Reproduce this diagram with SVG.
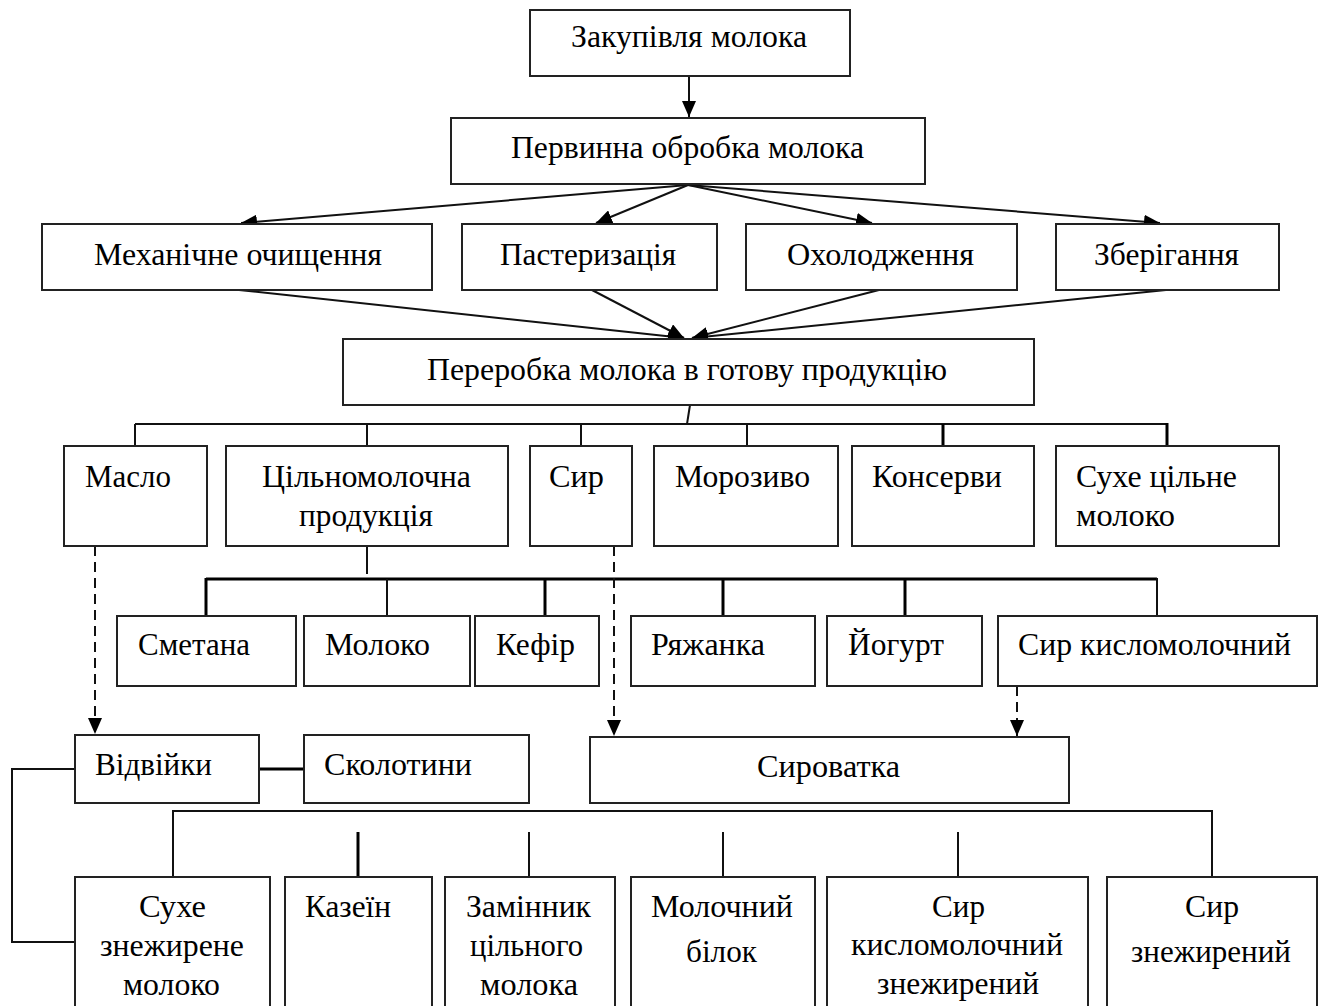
<svg xmlns="http://www.w3.org/2000/svg" width="1324" height="1006" viewBox="0 0 1324 1006">
<style>
.b{fill:#fff;stroke:#222;stroke-width:2}
.t{font-family:"Liberation Serif","Times New Roman",serif;font-size:32px;fill:#000}
.c{fill:none;stroke:#111;stroke-width:2}
.k{fill:none;stroke:#000;stroke-width:3}
.d{fill:none;stroke:#111;stroke-width:2;stroke-dasharray:10,6}
</style>
<defs>
<marker id="ar" markerUnits="userSpaceOnUse" markerWidth="18" markerHeight="14" refX="16" refY="7" orient="auto">
<path d="M0,0 L16,7 L0,14 z" fill="#000"/>
</marker>
</defs>
<rect width="1324" height="1006" fill="#fff"/>
<g id="connectors">
<line class="c" x1="689" y1="76" x2="689" y2="117" marker-end="url(#ar)"/>
<line class="c" x1="688" y1="185" x2="241" y2="223" marker-end="url(#ar)"/>
<line class="c" x1="688" y1="185" x2="596" y2="223" marker-end="url(#ar)"/>
<line class="c" x1="688" y1="185" x2="872" y2="223" marker-end="url(#ar)"/>
<line class="c" x1="688" y1="185" x2="1160" y2="223" marker-end="url(#ar)"/>
<line class="c" x1="239" y1="290" x2="684" y2="338" marker-end="url(#ar)"/>
<line class="c" x1="592" y1="290" x2="684" y2="338" marker-end="url(#ar)"/>
<line class="c" x1="879" y1="290" x2="692" y2="338" marker-end="url(#ar)"/>
<line class="c" x1="1166" y1="290" x2="692" y2="338" marker-end="url(#ar)"/>
<line class="c" x1="690" y1="405" x2="687" y2="424"/>
<line class="c" x1="135" y1="424" x2="1167" y2="424"/>
<line class="c" x1="135" y1="424" x2="135" y2="446"/>
<line class="c" x1="367" y1="424" x2="367" y2="446"/>
<line class="c" x1="581" y1="424" x2="581" y2="446"/>
<line class="c" x1="747" y1="424" x2="747" y2="446"/>
<line class="k" x1="943" y1="424" x2="943" y2="446"/>
<line class="k" x1="1167" y1="423" x2="1167" y2="446"/>
<line class="c" x1="367" y1="546" x2="367" y2="574"/>
<line class="k" x1="206" y1="579" x2="1157" y2="579"/>
<line class="k" x1="206" y1="578" x2="206" y2="616"/>
<line class="c" x1="387" y1="579" x2="387" y2="616"/>
<line class="k" x1="545" y1="579" x2="545" y2="616"/>
<line class="k" x1="723" y1="579" x2="723" y2="616"/>
<line class="k" x1="905" y1="579" x2="905" y2="616"/>
<line class="c" x1="1157" y1="578" x2="1157" y2="616"/>
<line class="d" x1="95" y1="546" x2="95" y2="734" marker-end="url(#ar)"/>
<line class="d" x1="614" y1="546" x2="614" y2="736" marker-end="url(#ar)"/>
<line class="d" x1="1017" y1="686" x2="1017" y2="736" marker-end="url(#ar)"/>
<line class="k" x1="259" y1="769" x2="304" y2="769"/>
<polyline class="c" points="75,769 12,769 12,942 75,942"/>
<polyline class="c" points="173,877 173,811 1212,811 1212,877"/>
<line class="k" x1="358" y1="832" x2="358" y2="877"/>
<line class="c" x1="529" y1="832" x2="529" y2="877"/>
<line class="c" x1="723" y1="832" x2="723" y2="877"/>
<line class="c" x1="958" y1="832" x2="958" y2="877"/>
</g>
<g id="n1"><rect class="b" x="530" y="10" width="320" height="66"/><text class="t" x="571" y="47" textLength="236" lengthAdjust="spacingAndGlyphs">Закупівля молока</text></g>
<g id="n2"><rect class="b" x="451" y="118" width="474" height="66"/><text class="t" x="511" y="158" textLength="353" lengthAdjust="spacingAndGlyphs">Первинна обробка молока</text></g>
<g id="n3"><rect class="b" x="42" y="224" width="390" height="66"/><text class="t" x="94" y="265" textLength="288" lengthAdjust="spacingAndGlyphs">Механічне очищення</text></g>
<g id="n4"><rect class="b" x="462" y="224" width="255" height="66"/><text class="t" x="500" y="265" textLength="176" lengthAdjust="spacingAndGlyphs">Пастеризація</text></g>
<g id="n5"><rect class="b" x="746" y="224" width="271" height="66"/><text class="t" x="787" y="265" textLength="187" lengthAdjust="spacingAndGlyphs">Охолодження</text></g>
<g id="n6"><rect class="b" x="1056" y="224" width="223" height="66"/><text class="t" x="1094" y="265" textLength="145" lengthAdjust="spacingAndGlyphs">Зберігання</text></g>
<g id="n7"><rect class="b" x="343" y="339" width="691" height="66"/><text class="t" x="427" y="380" textLength="520" lengthAdjust="spacingAndGlyphs">Переробка молока в готову продукцію</text></g>
<g id="n8"><rect class="b" x="64" y="446" width="143" height="100"/><text class="t" x="85" y="487" textLength="86" lengthAdjust="spacingAndGlyphs">Масло</text></g>
<g id="n9"><rect class="b" x="226" y="446" width="282" height="100"/><text class="t" x="262" y="487" textLength="209" lengthAdjust="spacingAndGlyphs">Цільномолочна</text><text class="t" x="299" y="526" textLength="134" lengthAdjust="spacingAndGlyphs">продукція</text></g>
<g id="n10"><rect class="b" x="530" y="446" width="102" height="100"/><text class="t" x="549" y="487" textLength="55" lengthAdjust="spacingAndGlyphs">Сир</text></g>
<g id="n11"><rect class="b" x="654" y="446" width="184" height="100"/><text class="t" x="675" y="487" textLength="135" lengthAdjust="spacingAndGlyphs">Морозиво</text></g>
<g id="n12"><rect class="b" x="852" y="446" width="182" height="100"/><text class="t" x="872" y="487" textLength="130" lengthAdjust="spacingAndGlyphs">Консерви</text></g>
<g id="n13"><rect class="b" x="1056" y="446" width="223" height="100"/><text class="t" x="1076" y="487" textLength="161" lengthAdjust="spacingAndGlyphs">Сухе цільне</text><text class="t" x="1076" y="526" textLength="99" lengthAdjust="spacingAndGlyphs">молоко</text></g>
<g id="n14"><rect class="b" x="117" y="616" width="179" height="70"/><text class="t" x="138" y="655" textLength="112" lengthAdjust="spacingAndGlyphs">Сметана</text></g>
<g id="n15"><rect class="b" x="304" y="616" width="166" height="70"/><text class="t" x="325" y="655" textLength="105" lengthAdjust="spacingAndGlyphs">Молоко</text></g>
<g id="n16"><rect class="b" x="475" y="616" width="124" height="70"/><text class="t" x="496" y="655" textLength="79" lengthAdjust="spacingAndGlyphs">Кефір</text></g>
<g id="n17"><rect class="b" x="631" y="616" width="184" height="70"/><text class="t" x="651" y="655" textLength="114" lengthAdjust="spacingAndGlyphs">Ряжанка</text></g>
<g id="n18"><rect class="b" x="827" y="616" width="155" height="70"/><text class="t" x="848" y="655" textLength="96" lengthAdjust="spacingAndGlyphs">Йогурт</text></g>
<g id="n19"><rect class="b" x="998" y="616" width="319" height="70"/><text class="t" x="1018" y="655" textLength="273" lengthAdjust="spacingAndGlyphs">Сир кисломолочний</text></g>
<g id="n20"><rect class="b" x="75" y="735" width="184" height="68"/><text class="t" x="95" y="775" textLength="117" lengthAdjust="spacingAndGlyphs">Відвійки</text></g>
<g id="n21"><rect class="b" x="304" y="735" width="225" height="68"/><text class="t" x="324" y="775" textLength="148" lengthAdjust="spacingAndGlyphs">Сколотини</text></g>
<g id="n22"><rect class="b" x="590" y="737" width="479" height="66"/><text class="t" x="757" y="777" textLength="143" lengthAdjust="spacingAndGlyphs">Сироватка</text></g>
<g id="n23"><rect class="b" x="75" y="877" width="195" height="140"/><text class="t" x="139" y="917" textLength="67" lengthAdjust="spacingAndGlyphs">Сухе</text><text class="t" x="100" y="956" textLength="144" lengthAdjust="spacingAndGlyphs">знежирене</text><text class="t" x="123" y="995" textLength="97" lengthAdjust="spacingAndGlyphs">молоко</text></g>
<g id="n24"><rect class="b" x="285" y="877" width="147" height="140"/><text class="t" x="305" y="917" textLength="86" lengthAdjust="spacingAndGlyphs">Казеїн</text></g>
<g id="n25"><rect class="b" x="445" y="877" width="170" height="140"/><text class="t" x="466" y="917" textLength="125" lengthAdjust="spacingAndGlyphs">Замінник</text><text class="t" x="470" y="956" textLength="113" lengthAdjust="spacingAndGlyphs">цільного</text><text class="t" x="480" y="995" textLength="98" lengthAdjust="spacingAndGlyphs">молока</text></g>
<g id="n26"><rect class="b" x="631" y="877" width="184" height="140"/><text class="t" x="651" y="917" textLength="142" lengthAdjust="spacingAndGlyphs">Молочний</text><text class="t" x="686" y="962" textLength="71" lengthAdjust="spacingAndGlyphs">білок</text></g>
<g id="n27"><rect class="b" x="827" y="877" width="261" height="140"/><text class="t" x="932" y="917" textLength="53" lengthAdjust="spacingAndGlyphs">Сир</text><text class="t" x="851" y="955" textLength="212" lengthAdjust="spacingAndGlyphs">кисломолочний</text><text class="t" x="877" y="994" textLength="162" lengthAdjust="spacingAndGlyphs">знежирений</text></g>
<g id="n28"><rect class="b" x="1107" y="877" width="210" height="140"/><text class="t" x="1185" y="917" textLength="54" lengthAdjust="spacingAndGlyphs">Сир</text><text class="t" x="1131" y="962" textLength="160" lengthAdjust="spacingAndGlyphs">знежирений</text></g>
</svg>
